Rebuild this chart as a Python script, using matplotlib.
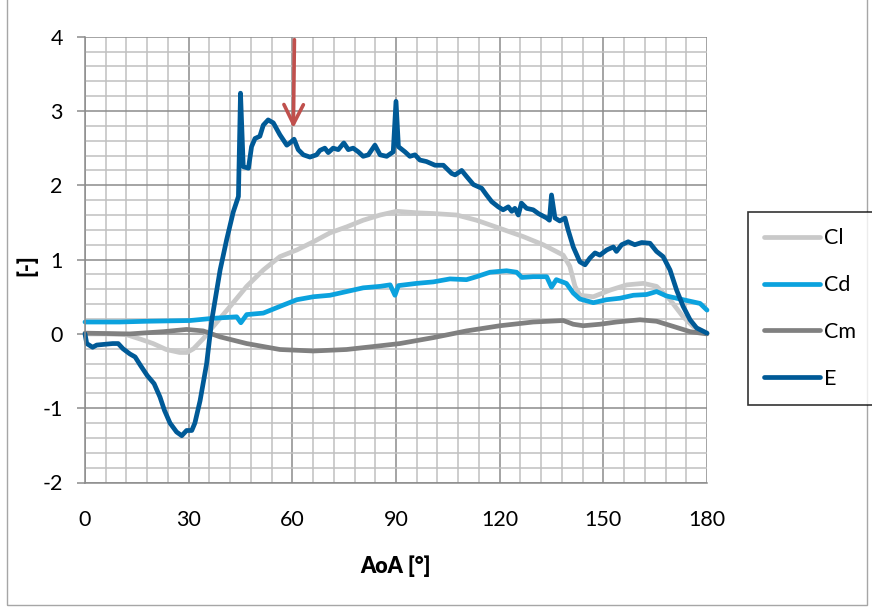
import matplotlib
matplotlib.use("Agg")
import matplotlib.pyplot as plt
from matplotlib.ticker import MultipleLocator
from matplotlib.patches import Rectangle

# ---- data -------------------------------------------------------------
cl_aoa = [0, 6, 12, 16, 19.7, 23.5, 27.4, 29.5, 31.4, 34.3, 37.1, 42, 46.8, 51.6,
          56.4, 61.3, 66.1, 70.9, 75.7, 80.5, 85.4, 90.2, 96, 100.8, 107.6, 113.3,
          120.1, 126.8, 132.6, 138.4, 140.3, 141.8, 143.2, 147.1, 152, 156.8,
          161.6, 165.4, 169.3, 173.1, 176, 180]
cl = [0, 0.0, -0.01, -0.07, -0.13, -0.21, -0.25, -0.25, -0.2, -0.06, 0.1, 0.37,
      0.64, 0.86, 1.04, 1.13, 1.24, 1.36, 1.44, 1.53, 1.6, 1.65, 1.63, 1.62, 1.6,
      1.53, 1.42, 1.31, 1.2, 1.06, 0.91, 0.64, 0.52, 0.5, 0.59, 0.66, 0.68, 0.64,
      0.46, 0.23, 0.1, 0.01]

cd_aoa = [0, 10, 17.8, 30.4, 37.1, 43.9, 45.1, 46.8, 51.6, 56.4, 61.3, 66.1, 70.9,
          75.7, 80.5, 85.4, 88.3, 89.7, 90.7, 96, 100.8, 105.6, 110.4, 113.3, 117.2,
          122, 124.9, 126.4, 129.7, 133.6, 135, 136.4, 139.3, 141.3, 143.2, 147.1,
          150.9, 154.8, 158.7, 162.5, 165.4, 168.3, 173.1, 178, 180]
cd = [0.16, 0.16, 0.17, 0.18, 0.21, 0.23, 0.15, 0.26, 0.28, 0.37, 0.46, 0.5, 0.52,
      0.57, 0.62, 0.64, 0.66, 0.52, 0.65, 0.68, 0.7, 0.74, 0.73, 0.77, 0.83, 0.85,
      0.83, 0.76, 0.77, 0.77, 0.63, 0.73, 0.68, 0.55, 0.47, 0.42, 0.46, 0.48, 0.52,
      0.53, 0.57, 0.51, 0.46, 0.41, 0.32]

cm_aoa = [0, 13, 22.7, 29.4, 34.2, 39.1, 46.8, 56.4, 66.1, 75.7, 85.4, 91.1, 100.8,
          110.4, 120.1, 129.7, 138.4, 141.3, 144.2, 149, 153.8, 160.6, 165.4, 170.3,
          175.1, 180]
cm = [0.01, 0.0, 0.03, 0.06, 0.04, -0.04, -0.13, -0.21, -0.23, -0.21, -0.16, -0.13,
      -0.05, 0.04, 0.11, 0.16, 0.18, 0.13, 0.11, 0.13, 0.16, 0.19, 0.17, 0.1, 0.03, 0.0]

e_aoa = [0, 0.5, 2.2, 3.4, 8, 9.6, 11, 13, 14.5, 16, 18, 20, 21.7, 23, 24.6, 26.5,
         28, 29.4, 30.9, 31.8, 33.3, 35.2, 36.7, 39.1, 41, 42.9, 44.4, 45.0, 45.8,
         47.3, 48.2, 49.2, 50.6, 51.6, 53.0, 54.5, 56.4, 58.4, 59.3, 60.5, 61.7,
         63.2, 65.1, 67.0, 68.0, 69.4, 70.4, 71.8, 73.3, 74.9, 76.2, 77.6, 79.1,
         80.5, 82.0, 83.9, 85.4, 87.3, 89.2, 90.0, 90.7, 92.6, 94.0, 95.5, 96.9,
         98.8, 101.3, 103.7, 106.1, 107.1, 109.0, 110.4, 112.4, 114.8, 116.2, 117.7,
         119.6, 121.0, 122.5, 123.5, 124.4, 125.4, 126.3, 127.8, 129.7, 131.2, 133.6,
         134.4, 135.0, 136.0, 137.4, 138.9, 139.8, 141.3, 143.2, 144.7, 146.1, 147.6,
         149.0, 151.0, 152.9, 153.8, 155.3, 157.2, 159.1, 161.1, 163.5, 165.4, 167.3,
         169.3, 171.2, 173.1, 175.1, 177.0, 180]
e = [0, -0.13, -0.18, -0.15, -0.13, -0.13, -0.2, -0.27, -0.31, -0.42, -0.56, -0.67,
     -0.85, -1.03, -1.2, -1.32, -1.37, -1.3, -1.3, -1.2, -0.9, -0.4, 0.19, 0.86,
     1.27, 1.64, 1.85, 3.24, 2.25, 2.23, 2.52, 2.63, 2.66, 2.81, 2.88, 2.84, 2.68,
     2.54, 2.57, 2.62, 2.48, 2.41, 2.38, 2.41, 2.47, 2.5, 2.44, 2.5, 2.48, 2.57,
     2.48, 2.5, 2.45, 2.39, 2.41, 2.54, 2.41, 2.39, 2.45, 3.13, 2.52, 2.45, 2.39,
     2.41, 2.34, 2.32, 2.27, 2.27, 2.16, 2.14, 2.2, 2.12, 2.01, 1.96, 1.87, 1.78,
     1.71, 1.67, 1.71, 1.65, 1.69, 1.6, 1.76, 1.69, 1.67, 1.62, 1.56, 1.53, 1.87,
     1.56, 1.52, 1.56, 1.4, 1.17, 0.97, 0.93, 1.02, 1.09, 1.06, 1.13, 1.17, 1.11,
     1.2, 1.24, 1.2, 1.23, 1.22, 1.11, 1.04, 0.86, 0.59, 0.37, 0.19, 0.08, 0.01]

series_labels = ["Cl", "Cd", "Cm", "E"]
series_colors = ["#C9C9C9", "#0BA2DE", "#808080", "#005A97"]

x_ticks = [0, 30, 60, 90, 120, 150, 180]
y_ticks = [-2, -1, 0, 1, 2, 3, 4]

arrow_aoa = 60.6
arrow_from = 3.96
arrow_to = 2.77

# ---- figure -----------------------------------------------------------
plt.rcParams["font.family"] = ["Lato", "DejaVu Sans"]
plt.rcParams["axes.unicode_minus"] = False

fig = plt.figure(figsize=(8.72, 6.08), dpi=100)
ax = fig.add_axes([85 / 872, 1 - 482.5 / 608, 622 / 872, 445.8 / 608])

# outer chart frame
fig.patches.append(Rectangle((7 / 872, 3 / 608), 860 / 872, 610 / 608,
                             transform=fig.transFigure, fill=False,
                             edgecolor="#A6A6A6", linewidth=1.0))

ax.set_xlim(0, 180)
ax.set_ylim(-2, 4)
ax.set_xticks(x_ticks)
ax.set_yticks(y_ticks)
ax.xaxis.set_minor_locator(MultipleLocator(6))
ax.yaxis.set_minor_locator(MultipleLocator(0.2))

ax.grid(which="minor", color="#C0C0C0", linewidth=1.1)
ax.grid(which="major", color="#8C8C8C", linewidth=1.1)
ax.set_axisbelow(True)

for side in ["top", "right"]:
    ax.spines[side].set_visible(False)
for side in ["left", "bottom"]:
    ax.spines[side].set_color("#8C8C8C")
    ax.spines[side].set_linewidth(1.1)

ax.tick_params(axis="y", which="major", length=6, width=1.1, color="#8C8C8C",
               labelsize=15.5, pad=10)
ax.tick_params(axis="x", which="major", length=0, labelsize=15.5, pad=20)
ax.tick_params(which="minor", length=0)

handles = []
for xs, ys, lab, col in zip([cl_aoa, cd_aoa, cm_aoa, e_aoa], [cl, cd, cm, e],
                            series_labels, series_colors):
    h, = ax.plot(xs, ys, color=col, linewidth=3.4, label=lab,
                 solid_capstyle="round", solid_joinstyle="round", clip_on=False)
    handles.append(h)

ax.set_xlabel("AoA [°]", fontsize=15.5, fontweight="heavy", labelpad=18)
ax.set_ylabel("[-]", fontsize=15.5, fontweight="heavy", labelpad=0)
ax.yaxis.set_label_coords(-(85 - 37) / 622, (482.5 - 265) / 445.8)

ax.annotate("", xy=(arrow_aoa - 0.3, arrow_to), xytext=(arrow_aoa, arrow_from),
            arrowprops=dict(arrowstyle="->,head_length=0.7,head_width=0.35",
                            color="#C0504D", linewidth=2.6, mutation_scale=20,
                            shrinkA=0, shrinkB=0))

leg = fig.legend(handles=handles, loc="upper left",
                 bbox_to_anchor=(748 / 872, 1 - 212 / 608),
                 frameon=True, fancybox=False, edgecolor="black",
                 fontsize=15.5, handlelength=2.6, handletextpad=0.2,
                 labelspacing=1.25, borderpad=0.75, borderaxespad=0)
leg.get_frame().set_linewidth(1.2)

fig.savefig("out.png", dpi=100)
